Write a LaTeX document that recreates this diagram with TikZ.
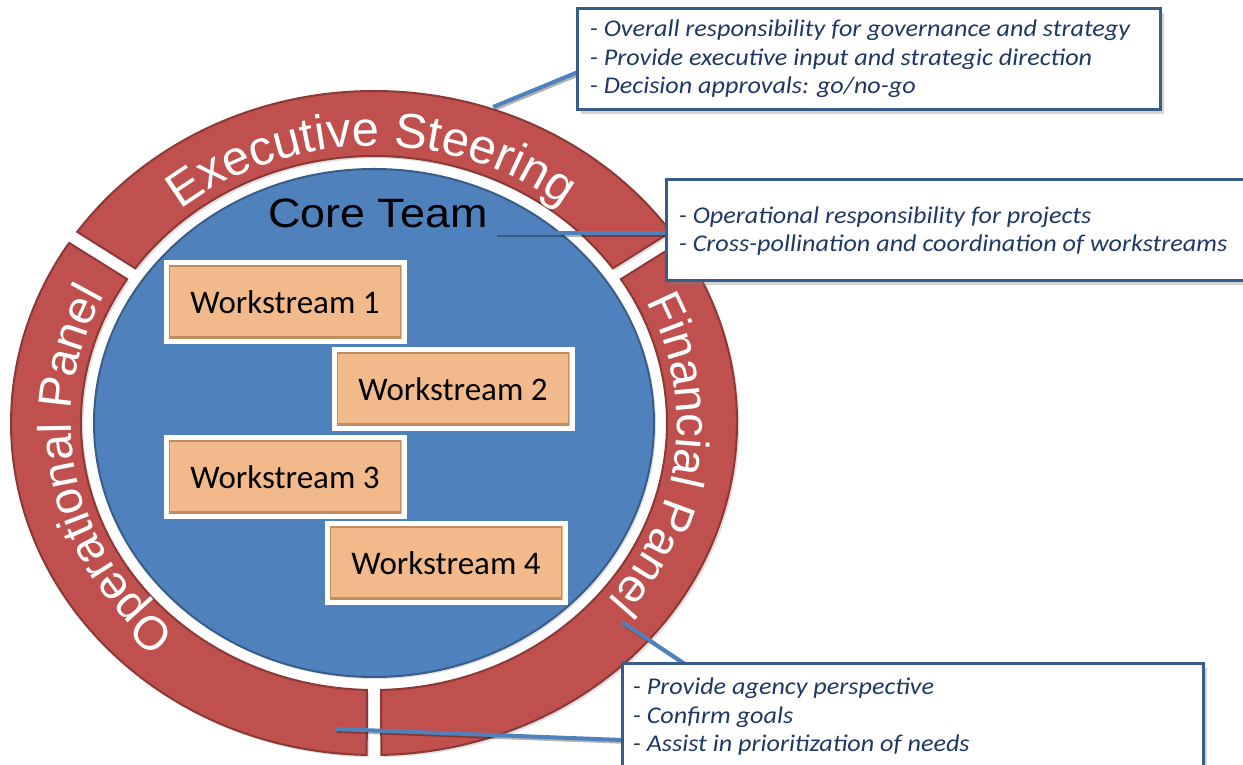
\documentclass[tikz,border=0pt]{standalone}
\usepackage{fontspec}
\usepackage{graphicx}
\usetikzlibrary{decorations.text,shadows,calc}
\newfontfamily\arialfont{Liberation Sans}
\newfontfamily\calfont{Carlito}
\definecolor{ringred}{HTML}{C0504D}
\definecolor{ringedge}{HTML}{8C3836}
\definecolor{coreblue}{HTML}{4F81BD}
\definecolor{coreedge}{HTML}{385D8A}
\definecolor{wsfill}{HTML}{F2BA8B}
\definecolor{wsedge}{HTML}{C08C60}
\definecolor{calltext}{HTML}{1F3864}
\definecolor{callborder}{HTML}{385D8A}
\newcommand\hstretch[1]{\scalebox{1.095}[1]{#1}}
\newcommand\cstretch[1]{\scalebox{1.09}[1]{#1}}
\begin{document}
\begin{tikzpicture}[x=0.5pt,y=0.5pt,
  seg/.style={fill=ringred, draw=ringedge, line width=1pt,
    drop shadow={shadow xshift=1.2pt, shadow yshift=-1.2pt, opacity=0.25}},
  core/.style={fill=coreblue, draw=coreedge, line width=1pt,
    drop shadow={shadow xshift=1pt, shadow yshift=-1pt, opacity=0.25}},
  wsbox/.style={fill=wsfill, draw=white, line width=2.5pt,
    minimum width=119pt, minimum height=39.25pt, inner sep=0pt,
    font=\calfont\fontsize{16.5}{19}\selectfont,
    drop shadow={shadow xshift=1pt, shadow yshift=-1pt, opacity=0.3},
    path picture={
      \draw[wsedge, line width=0.6pt]
        ([shift={(1.6pt,1.6pt)}]path picture bounding box.south west)
        rectangle ([shift={(-1.6pt,-1.6pt)}]path picture bounding box.north east);
      \draw[wsedge, line width=1.4pt]
        ([shift={(1.6pt,2pt)}]path picture bounding box.south west)
        -- ([shift={(-1.6pt,2pt)}]path picture bounding box.south east);}},
  callout/.style={draw=callborder, line width=1.5pt, fill=white, inner sep=0pt,
    drop shadow={shadow xshift=2pt, shadow yshift=-2pt, opacity=0.35}},
  ctext/.style={text=calltext, font=\calfont\itshape\fontsize{12}{14.25}\selectfont, inner sep=0pt},
  conn/.style={draw=coreblue, line width=2pt,
    preaction={draw=black, opacity=0.3, line width=2pt,
      transform canvas={shift={(0.9pt,-0.9pt)}}}}
]
\useasboundingbox (0,0) rectangle (1243,765);

% ring segments and core circle
\begin{scope}[shift={(374,342)}]
  % Executive Steering
  \path[seg] (144.85:363 and 332) arc[start angle=144.85, end angle=35.15, x radius=363, y radius=332]
    -- (35.4:293 and 267) arc[start angle=35.4, end angle=144.6, x radius=293, y radius=267] -- cycle;
  % Financial Panel
  \path[seg] (32.85:363 and 332) arc[start angle=32.85, end angle=-88.85, x radius=363, y radius=332]
    -- (-88.6:293 and 267) arc[start angle=-88.6, end angle=32.6, x radius=293, y radius=267] -- cycle;
  % Operational Panel
  \path[seg] (268.85:363 and 332) arc[start angle=268.85, end angle=147.15, x radius=363, y radius=332]
    -- (147.4:293 and 267) arc[start angle=147.4, end angle=268.6, x radius=293, y radius=267] -- cycle;
  % core
  \path[core] (0,0) ellipse[x radius=280, y radius=254];
  % ring labels
  \path[decorate, decoration={text along path, text align=center, text color=white,
      text={|\arialfont\fontsize{24.5}{24.5}\selectfont|Executive Steering}}]
    (150:303 and 277) arc[start angle=150, end angle=31, x radius=303, y radius=277];
  \path[decorate, decoration={text along path, text align=center, text color=white,
      text={|\arialfont\fontsize{23.5}{23.5}\selectfont|Operational Panel}}]
    (260:303 and 277) arc[start angle=260, end angle=121, x radius=303, y radius=277];
  \path[decorate, decoration={text along path, text align=center, text color=white,
      text={|\arialfont\fontsize{23.5}{23.5}\selectfont|Financial Panel}}]
    (60:303 and 277) arc[start angle=60, end angle=-73, x radius=303, y radius=277];
\end{scope}

% core team title
\node (coretitle) at (378,552) {\hstretch{\arialfont\fontsize{20.5}{24}\selectfont Core Team}};

% workstreams
\node[wsbox] (ws1) at (285,463) {Workstream 1};
\node[wsbox] (ws2) at (453,376) {Workstream 2};
\node[wsbox] (ws3) at (285,288) {Workstream 3};
\node[wsbox] (ws4) at (446,202) {Workstream 4};

% connectors
\coordinate (p1) at (493,658);
\coordinate (p2) at (495,532);
\coordinate (p3) at (622,143);
\coordinate (p4) at (335,36);
\coordinate (q1) at (578,693);
\coordinate (q2) at (666,532);
\coordinate (q3) at (685,101);
\coordinate (q4) at (622,25);
\draw[conn] (p1) -- (q1);
\draw[conn] (p2) -- (q2);
\draw[conn] (p3) -- (q3);
\draw[conn] (p4) -- (q4);

% callout boxes
\node[callout, minimum width=291.5pt, minimum height=50.5pt] (b1) at (868.5,705.5) {};
\node[callout, minimum width=293pt, minimum height=50.5pt] (b2) at (959,534.5) {};
\node[callout, minimum width=290.5pt, minimum height=53.5pt] (b3) at (912.5,47.5) {};

\node[ctext, anchor=west] (t1) at ([xshift=7pt]b1.west) {\cstretch{\begin{tabular}{@{}l@{}}
- Overall responsibility for governance and strategy\\
- Provide executive input and strategic direction\\
- Decision approvals: go/no-go\end{tabular}}};
\node[ctext, anchor=west] (t2) at ([xshift=7pt,yshift=-0.75pt]b2.west) {\cstretch{\begin{tabular}{@{}l@{}}
- Operational responsibility for projects\\
- Cross-pollination and coordination of workstreams\end{tabular}}};
\node[ctext, anchor=west] (t3) at ([xshift=6pt]b3.west) {\cstretch{\begin{tabular}{@{}l@{}}
- Provide agency perspective\\
- Confirm goals\\
- Assist in prioritization of needs\end{tabular}}};
\end{tikzpicture}
\end{document}
